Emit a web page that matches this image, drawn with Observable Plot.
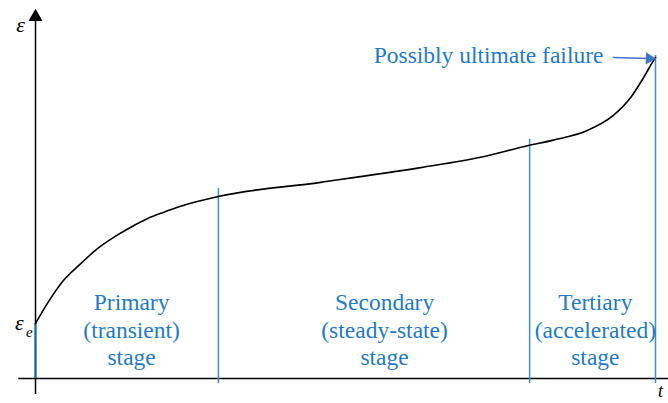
<!DOCTYPE html>
<html>
<head>
<meta charset="utf-8">
<script src="https://cdn.jsdelivr.net/npm/d3@7"></script>
<script src="https://cdn.jsdelivr.net/npm/@observablehq/plot@0.6"></script>
<style>
  html, body { margin: 0; padding: 0; background: #fff; }
  #chart { width: 668px; height: 403px; }
</style>
</head>
<body>
<div id="chart"></div>
<script>
// Creep curve: time t vs strain ε (arbitrary units)
const curveT      = [0, 0.19, 0.45, 0.73, 1.0, 1.26, 1.53, 1.81, 2.06, 2.34, 2.61, 2.95, 4.6, 6.21, 7.2, 7.95, 8.35, 8.9, 9.32, 9.6, 9.81, 9.97, 10];
const curveStrain = [1.72, 2.34, 3.06, 3.59, 4.06, 4.41, 4.72, 5.0, 5.19, 5.38, 5.53, 5.69, 6.13, 6.59, 6.92, 7.28, 7.45, 7.75, 8.22, 8.78, 9.41, 9.94, 10.03];

const elasticStrain = 1.72;
const boundaryT   = [2.95, 7.97, 10];
const boundaryTop = [5.94, 7.47, 10.09];

const stageNames  = ["Primary\n(transient)\nstage", "Secondary\n(steady-state)\nstage", "Tertiary\n(accelerated)\nstage"];
const stageCenter = [1.55, 5.63, 9.03];
const stageLabelY = 1.55;

const failureLabel = "Possibly ultimate failure";
const failureText  = {t: 9.16, e: 10.09};
const failureArrow = {t1: 9.31, e1: 10.03, t2: 9.9, e2: 10.0};

const curve = curveT.map((t, i) => ({t, e: curveStrain[i]}));
const bounds = boundaryT.map((t, i) => ({t, top: boundaryTop[i]}));
const stages = stageNames.map((s, i) => ({s, t: stageCenter[i], e: stageLabelY}));

const blue = "#1f7ac8";
const lineBlue = "#3a8fd8";
const serif = "Liberation Serif, Tinos, Times New Roman, DejaVu Serif, serif";

const plot = Plot.plot({
  width: 668,
  height: 403,
  margin: 0,
  x: {domain: [0, 10], range: [35, 655], axis: null},
  y: {domain: [0, 10], range: [378, 58], axis: null},
  marks: [
    // axes
    Plot.ruleX([0], {y1: -0.5, y2: 11.2, stroke: "#000", strokeWidth: 1.5}),
    Plot.dot([{t: 0, e: 11.3}], {x: "t", y: "e", symbol: "triangle", r: 5.2, fill: "#000", stroke: null}),
    Plot.ruleY([0], {x1: -0.27, x2: 10.6, stroke: "#000", strokeWidth: 1.5}),
    // elastic strain segment on y axis
    Plot.ruleX([0], {y1: 0, y2: elasticStrain, stroke: "#1b6aad", strokeWidth: 2}),
    // stage boundaries
    Plot.ruleX(bounds, {x: "t", y1: -0.16, y2: "top", stroke: lineBlue, strokeWidth: 1.5}),
    // creep curve
    Plot.line(curve, {x: "t", y: "e", curve: "monotone-x", stroke: "#000", strokeWidth: 1.6}),
    // stage labels
    Plot.text(stages, {x: "t", y: "e", text: "s", fill: blue, fontFamily: serif, fontSize: 23.5, lineHeight: 1.17, textAnchor: "middle", lineAnchor: "middle"}),
    // failure annotation
    Plot.text([failureText], {x: "t", y: "e", text: () => failureLabel, fill: blue, fontFamily: serif, fontSize: 23.5, textAnchor: "end", lineAnchor: "middle"}),
    Plot.link([failureArrow], {x1: "t1", y1: "e1", x2: "t2", y2: "e2", stroke: "#4472c4", strokeWidth: 1.5}),
    Plot.dot([failureArrow], {x: "t2", y: "e2", symbol: "triangle", rotate: 92, r: 4.5, fill: "#4472c4", stroke: null}),
    // axis labels
    Plot.text(["ε"], {x: -0.24, y: 11.05, text: d => d, fontFamily: serif, fontSize: 22, fontStyle: "italic", fill: "#000"}),
    Plot.text(["ε"], {x: -0.26, y: 1.75, text: d => d, fontFamily: serif, fontSize: 22, fontStyle: "italic", fill: "#000"}),
    Plot.text(["e"], {x: -0.1, y: 1.45, text: d => d, fontFamily: serif, fontSize: 15, fontStyle: "italic", fill: "#000"}),
    Plot.text(["t"], {x: 10.04, y: -0.4, text: d => d, fontFamily: serif, fontSize: 18, fontStyle: "italic", fill: "#000", textAnchor: "start"})
  ]
});
document.getElementById("chart").appendChild(plot);
</script>
</body>
</html>
